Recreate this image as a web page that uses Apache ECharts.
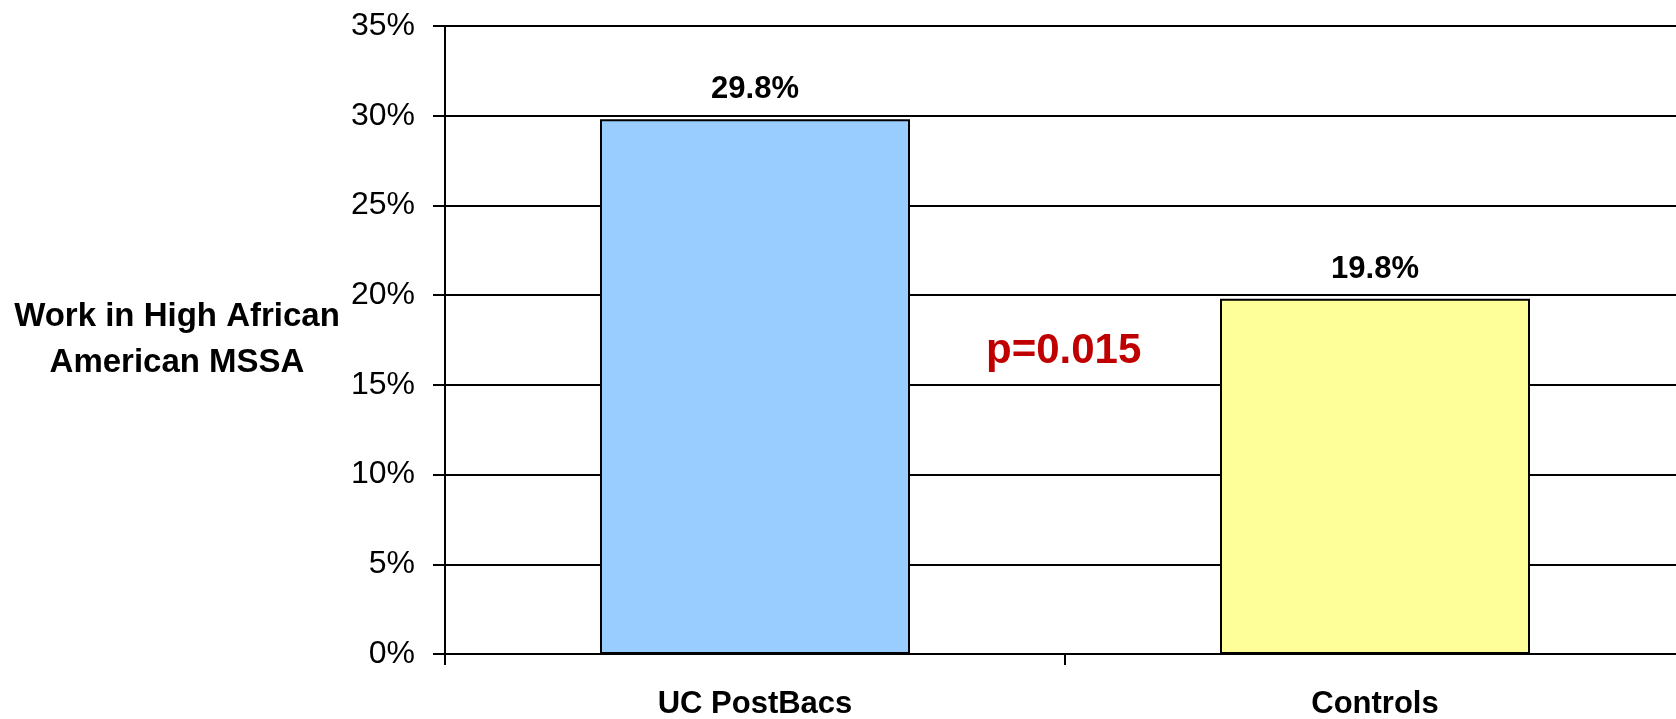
<!DOCTYPE html>
<html>
<head>
<meta charset="utf-8">
<script src="https://cdn.jsdelivr.net/npm/echarts@6/dist/echarts.min.js"></script>
<style>
  html, body { margin: 0; padding: 0; background: #fff; }
  #main { width: 1676px; height: 719px; }
</style>
</head>
<body>
<div id="main"></div>
<script>
var categories = ['UC PostBacs', 'Controls'];
var values = [29.8, 19.8];
var barColors = ['#99CCFF', '#FFFF99'];
var yTicks = [0, 5, 10, 15, 20, 25, 30, 35];
var yTitle = 'Work in High African\nAmerican MSSA';
var pNote = 'p=0.015';

var chartDom = document.getElementById('main');
var myChart = echarts.init(chartDom);
var option;

option = {
    animation: false,
    grid: {
        left: 445,
        top: 26,
        width: 1240,
        height: 628,
        outerBoundsMode: 'none'
    },
    xAxis: {
        type: 'category',
        data: categories,
        axisLine: { lineStyle: { color: '#000', width: 2 } },
        axisTick: { show: true, interval: 0, length: 11, lineStyle: { color: '#000', width: 2 } },
        axisLabel: {
            color: '#000',
            fontFamily: 'Liberation Sans, Arial',
            fontWeight: 'bold',
            fontSize: 31,
            margin: 35
        }
    },
    yAxis: {
        type: 'value',
        min: yTicks[0],
        max: yTicks[yTicks.length - 1],
        interval: 5,
        name: yTitle,
        nameLocation: 'middle',
        nameRotate: 0,
        nameGap: 268,
        nameTextStyle: {
            color: '#000',
            fontFamily: 'Liberation Sans, Arial',
            fontWeight: 'bold',
            fontSize: 33,
            lineHeight: 46,
            align: 'center',
            verticalAlign: 'middle'
        },
        axisLine: { show: true, lineStyle: { color: '#000', width: 2 } },
        axisTick: { show: true, length: 12, lineStyle: { color: '#000', width: 2 } },
        splitLine: { lineStyle: { color: '#000', width: 2 } },
        axisLabel: {
            color: '#000',
            fontFamily: 'Liberation Sans, Arial',
            fontSize: 32,
            margin: 30,
            formatter: '{value}%'
        }
    },
    graphic: {
        elements: [{
            type: 'text',
            left: 986,
            top: 330,
            style: {
                text: pNote,
                fill: '#C00000',
                font: 'bold 42px "Liberation Sans", Arial'
            }
        }]
    },
    series: [
        {
            type: 'bar',
            barWidth: '50%',
            data: values.map(function (v, i) {
                return { value: v, itemStyle: { color: barColors[i] } };
            }),
            itemStyle: { borderColor: '#000', borderWidth: 2 },
            label: {
                show: true,
                position: 'top',
                distance: 14,
                color: '#000',
                fontFamily: 'Liberation Sans, Arial',
                fontWeight: 'bold',
                fontSize: 31,
                formatter: function (p) { return p.value.toFixed(1) + '%'; }
            }
        }
    ]
};

option && myChart.setOption(option);
</script>
</body>
</html>
